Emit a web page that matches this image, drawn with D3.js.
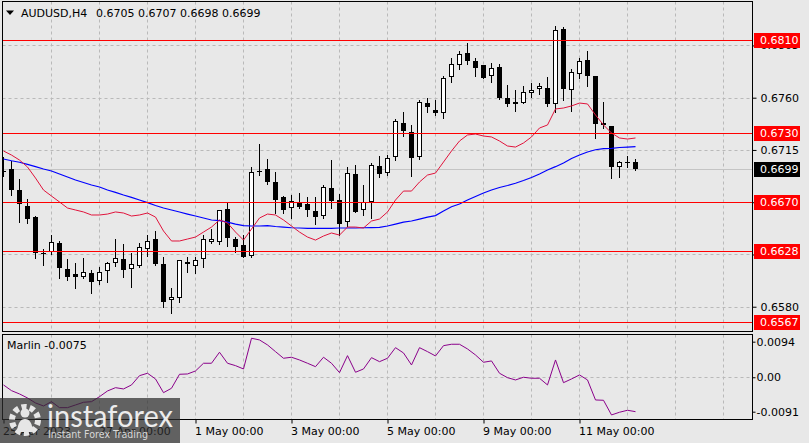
<!DOCTYPE html>
<html>
<head>
<meta charset="utf-8">
<script src="https://cdn.jsdelivr.net/npm/d3@7"></script>
<style>
  html, body { margin: 0; padding: 0; background: #e8e8e8; }
  svg { display: block; }
  text { font-family: 'DejaVu Sans', sans-serif; font-size: 11px; }
</style>
</head>
<body>
<div id="chart"></div>
<script>
// AUDUSD H4, candle index 0 = 25 Apr 00:00
const opens = [
  0.66969, 0.66986, 0.66805, 0.66667, 0.66572, 0.66262, 0.66275, 0.66346, 0.66125, 0.66082,
  0.66053, 0.66090, 0.66024, 0.66110, 0.66174, 0.66211, 0.66122, 0.66153, 0.66299, 0.66383,
  0.66168, 0.65858, 0.65872, 0.66182, 0.66153, 0.66208, 0.66360, 0.66360, 0.66641, 0.66383,
  0.66331, 0.66239, 0.66969, 0.66986, 0.66871, 0.66742, 0.66647, 0.66696, 0.66683, 0.66624,
  0.66584, 0.66822, 0.66719, 0.66527, 0.66941, 0.66630, 0.66704, 0.67012, 0.66949, 0.67092,
  0.67380, 0.67307, 0.67092, 0.67552, 0.67494, 0.67466, 0.67776, 0.67882, 0.67982, 0.67916,
  0.67882, 0.67787, 0.67862, 0.67600, 0.67543, 0.67552, 0.67638, 0.67672, 0.67681, 0.67543,
  0.68189, 0.67666, 0.67802, 0.67925, 0.67787, 0.67385, 0.67356, 0.67001, 0.67045, 0.67050
];
const highs = [
  0.67089, 0.67055, 0.66897, 0.66725, 0.66581, 0.66297, 0.66417, 0.66368, 0.66211, 0.66176,
  0.66219, 0.66113, 0.66139, 0.66185, 0.66383, 0.66340, 0.66265, 0.66353, 0.66417, 0.66456,
  0.66225, 0.65958, 0.66205, 0.66225, 0.66225, 0.66417, 0.66469, 0.66637, 0.66706, 0.66400,
  0.66417, 0.67001, 0.67201, 0.67069, 0.66957, 0.66756, 0.66758, 0.66783, 0.66747, 0.66749,
  0.66851, 0.67063, 0.66771, 0.67003, 0.67020, 0.66848, 0.67035, 0.67098, 0.67106, 0.67417,
  0.67479, 0.67365, 0.67580, 0.67595, 0.67580, 0.67789, 0.67939, 0.68005, 0.68074, 0.67939,
  0.67885, 0.67896, 0.67890, 0.67709, 0.67666, 0.67701, 0.67724, 0.67724, 0.67781, 0.68218,
  0.68206, 0.67845, 0.67939, 0.68002, 0.67787, 0.67566, 0.67356, 0.67057, 0.67098, 0.67070
];
const lows = [
  0.66926, 0.66762, 0.66532, 0.66523, 0.66217, 0.66159, 0.66254, 0.66044, 0.66030, 0.65964,
  0.66044, 0.65922, 0.65995, 0.66015, 0.66150, 0.66053, 0.65972, 0.66146, 0.66239, 0.66163,
  0.65797, 0.65748, 0.65843, 0.66101, 0.66093, 0.66139, 0.66346, 0.66340, 0.66323, 0.66267,
  0.66224, 0.66231, 0.66934, 0.66857, 0.66604, 0.66604, 0.66568, 0.66654, 0.66581, 0.66516,
  0.66564, 0.66647, 0.66417, 0.66491, 0.66616, 0.66590, 0.66564, 0.66921, 0.66934, 0.67063,
  0.67273, 0.66928, 0.67069, 0.67474, 0.67451, 0.67428, 0.67738, 0.67847, 0.67890, 0.67789,
  0.67772, 0.67733, 0.67586, 0.67531, 0.67488, 0.67550, 0.67609, 0.67632, 0.67529, 0.67479,
  0.67580, 0.67488, 0.67767, 0.67703, 0.67250, 0.67336, 0.66906, 0.66920, 0.67006, 0.66980
];
const closes = [
  0.66960, 0.66805, 0.66682, 0.66558, 0.66260, 0.66258, 0.66355, 0.66136, 0.66058, 0.66058,
  0.66096, 0.66015, 0.66101, 0.66179, 0.66217, 0.66113, 0.66165, 0.66317, 0.66366, 0.66168,
  0.65843, 0.65886, 0.66202, 0.66165, 0.66202, 0.66380, 0.66380, 0.66633, 0.66389, 0.66317,
  0.66231, 0.66957, 0.66966, 0.66871, 0.66719, 0.66633, 0.66708, 0.66661, 0.66630, 0.66575,
  0.66828, 0.66712, 0.66512, 0.66949, 0.66618, 0.66702, 0.67020, 0.66939, 0.67081, 0.67399,
  0.67316, 0.67078, 0.67560, 0.67517, 0.67471, 0.67767, 0.67888, 0.67976, 0.67919, 0.67858,
  0.67772, 0.67853, 0.67600, 0.67546, 0.67560, 0.67647, 0.67666, 0.67701, 0.67546, 0.68183,
  0.67672, 0.67819, 0.67916, 0.67789, 0.67371, 0.67365, 0.67006, 0.67044, 0.67050, 0.66990
];

// moving averages
const maFast = [
  0.67141, 0.67106, 0.67063, 0.67003, 0.66908, 0.66805, 0.66753, 0.66702, 0.66650, 0.66633,
  0.66616, 0.66590, 0.66590, 0.66598, 0.66616, 0.66607, 0.66581, 0.66590, 0.66607, 0.66572,
  0.66452, 0.66366, 0.66366, 0.66383, 0.66400, 0.66443, 0.66486, 0.66547, 0.66521, 0.66443,
  0.66374, 0.66469, 0.66564, 0.66598, 0.66590, 0.66547, 0.66495, 0.66443, 0.66400, 0.66374,
  0.66409, 0.66435, 0.66417, 0.66486, 0.66486, 0.66478, 0.66538, 0.66555, 0.66616, 0.66719,
  0.66796, 0.66796, 0.66874, 0.66934, 0.66951, 0.67046, 0.67141, 0.67227, 0.67279, 0.67287,
  0.67270, 0.67262, 0.67227, 0.67184, 0.67175, 0.67210, 0.67262, 0.67339, 0.67365, 0.67503,
  0.67511, 0.67529, 0.67554, 0.67546, 0.67451, 0.67365, 0.67296, 0.67253, 0.67244, 0.67253
];
const maSlow = [
  0.67072, 0.67057, 0.67044, 0.67026, 0.67006, 0.66986, 0.66969, 0.66943, 0.66917, 0.66891,
  0.66870, 0.66848, 0.66831, 0.66805, 0.66785, 0.66762, 0.66742, 0.66719, 0.66696, 0.66672,
  0.66650, 0.66633, 0.66616, 0.66598, 0.66581, 0.66564, 0.66547, 0.66542, 0.66529, 0.66512,
  0.66499, 0.66495, 0.66495, 0.66499, 0.66491, 0.66486, 0.66480, 0.66478, 0.66475, 0.66475,
  0.66475, 0.66475, 0.66478, 0.66478, 0.66478, 0.66480, 0.66482, 0.66484, 0.66495, 0.66512,
  0.66529, 0.66538, 0.66555, 0.66572, 0.66585, 0.66624, 0.66661, 0.66684, 0.66719, 0.66749,
  0.66779, 0.66805, 0.66827, 0.66844, 0.66863, 0.66887, 0.66913, 0.66943, 0.66977, 0.67006,
  0.67038, 0.67076, 0.67106, 0.67132, 0.67152, 0.67161, 0.67164, 0.67171, 0.67175, 0.67178
];
const marlin = [
  -0.00203, -0.00354, -0.00441, -0.00547, -0.00679, -0.00758, -0.00645, -0.00803, -0.00803, -0.00732,
  -0.00661, -0.00645, -0.00513, -0.00362, -0.00275, -0.00309, -0.00203, 0.00042, 0.00106, -0.00045,
  -0.00407, -0.00291, 0.00079, 0.00087, 0.00166, 0.00370, 0.00370, 0.00661, 0.00370, 0.00307,
  0.00219, 0.01031, 0.00986, 0.00854, 0.00677, 0.00502, 0.00529, 0.00457, 0.00370, 0.00280,
  0.00529, 0.00370, 0.00122, 0.00571, 0.00132, 0.00219, 0.00518, 0.00412, 0.00502, 0.00782,
  0.00642, 0.00325, 0.00782, 0.00677, 0.00563, 0.00835, 0.00872, 0.00872, 0.00748, 0.00589,
  0.00396, 0.00431, 0.00106, -0.00011, -0.00071, 0.00000, -0.00026, -0.00026, -0.00203, 0.00457,
  -0.00143, -0.00045, 0.00061, -0.00071, -0.00600, -0.00608, -0.00996, -0.00925, -0.00872, -0.00909
];

const levels = [0.6810, 0.6730, 0.6670, 0.6628, 0.6567];
const priceTicks = [0.6805, 0.6760, 0.6715, 0.6670, 0.6625, 0.6580];
const marlinTicks = [0.0094, 0, -0.0091];
const marlinTickLabels = ['0.0094', '0.00', '-0.0091'];
const timeIdx = [0, 12, 24, 36, 48, 60, 72];
const timeLabels = ['25 Apr 2023', '27 Apr 00:00', '1 May 00:00', '3 May 00:00', '5 May 00:00', '9 May 00:00', '11 May 00:00'];
const lastPrice = 0.6699;
const header = ['AUDUSD,H4', '0.6705 0.6707 0.6698 0.6699'];
const marlinTitle = 'Marlin -0.0075';

const width = 809;
const height = 443;
const frame = { left: 2.5, right: 752.5, top: 1.5, bottom: 331.5, subTop: 334.5, subBottom: 419.5 };

const x = d3.scaleLinear().domain([0, 79]).range([3.5, 635.5]);
const y = d3.scaleLinear().domain([0.65591, 0.68424]).range([331, 2]);
const yM = d3.scaleLinear().domain([-0.01103, 0.01143]).range([419, 334]);
const snap = (v) => Math.round(v) + 0.5;

const svg = d3.select('#chart')
  .append('svg')
  .attr('width', width)
  .attr('height', height);

svg.append('rect').attr('width', width).attr('height', height).attr('fill', '#e8e8e8');

const defs = svg.append('defs');
defs.append('clipPath').attr('id', 'clipMain')
  .append('rect')
  .attr('x', frame.left).attr('y', frame.top)
  .attr('width', frame.right - frame.left).attr('height', frame.bottom - frame.top);
defs.append('clipPath').attr('id', 'clipSub')
  .append('rect')
  .attr('x', frame.left).attr('y', frame.subTop)
  .attr('width', frame.right - frame.left).attr('height', frame.subBottom - frame.subTop);

const gridIdx = d3.range(6, 91, 6);

// vertical gridlines in both panels
[[frame.top, frame.bottom], [frame.subTop, frame.subBottom]].forEach(([t, b]) => {
  svg.append('g')
    .selectAll('line')
    .data(gridIdx)
    .enter().append('line')
    .attr('x1', (d) => x(d)).attr('x2', (d) => x(d))
    .attr('y1', t).attr('y2', b)
    .attr('stroke', '#b9b9b9')
    .attr('stroke-dasharray', '3,3');
});

// horizontal gridlines
svg.append('g')
  .selectAll('line')
  .data(priceTicks)
  .enter().append('line')
  .attr('x1', frame.left).attr('x2', frame.right)
  .attr('y1', (d) => snap(y(d))).attr('y2', (d) => snap(y(d)))
  .attr('stroke', '#b9b9b9')
  .attr('stroke-dasharray', '3,3');

svg.append('line')
  .attr('x1', frame.left).attr('x2', frame.right)
  .attr('y1', snap(yM(0))).attr('y2', snap(yM(0)))
  .attr('stroke', '#b9b9b9')
  .attr('stroke-dasharray', '3,3');

// last price line
svg.append('line')
  .attr('x1', frame.left).attr('x2', frame.right)
  .attr('y1', snap(y(lastPrice))).attr('y2', snap(y(lastPrice)))
  .attr('stroke', '#c4c4c4');

const plot = svg.append('g').attr('clip-path', 'url(#clipMain)');

const candles = opens.map((o, i) => ({
  i, o, h: highs[i], l: lows[i], c: closes[i],
}));
const bodyTop = (d) => Math.round(y(Math.max(d.o, d.c)));
const bodyBot = (d) => Math.round(y(Math.min(d.o, d.c)));

// wicks
plot.append('g')
  .selectAll('line')
  .data(candles)
  .enter().append('line')
  .attr('x1', (d) => x(d.i)).attr('x2', (d) => x(d.i))
  .attr('y1', (d) => Math.round(y(d.h)))
  .attr('y2', (d) => Math.round(y(d.l)) + 1)
  .attr('stroke', '#000');

// bodies
plot.append('g')
  .selectAll('rect')
  .data(candles)
  .enter().append('rect')
  .each(function (d) {
    const t = bodyTop(d);
    const b = bodyBot(d);
    const r = d3.select(this);
    if (d.c > d.o && b - t > 1) {
      r.attr('x', x(d.i) - 2).attr('y', t + 0.5)
        .attr('width', 4).attr('height', b - t - 1)
        .attr('fill', '#fff').attr('stroke', '#000');
    } else {
      r.attr('x', x(d.i) - 2.5).attr('y', t)
        .attr('width', 5).attr('height', Math.max(1, b - t))
        .attr('fill', '#000');
    }
  });

// moving averages
const line = d3.line().x((d, i) => x(i)).y((d) => y(d));
plot.append('path')
  .datum(maSlow)
  .attr('d', line)
  .attr('fill', 'none')
  .attr('stroke', '#0000ff')
  .attr('stroke-width', 1.2);
plot.append('path')
  .datum(maFast)
  .attr('d', line)
  .attr('fill', 'none')
  .attr('stroke', '#e0143c')
  .attr('stroke-width', 1);

// horizontal levels
svg.append('g')
  .selectAll('line')
  .data(levels)
  .enter().append('line')
  .attr('x1', frame.left).attr('x2', frame.right)
  .attr('y1', (d) => snap(y(d))).attr('y2', (d) => snap(y(d)))
  .attr('stroke', '#ff0000');

// marlin oscillator
svg.append('g').attr('clip-path', 'url(#clipSub)')
  .append('path')
  .datum(marlin)
  .attr('d', d3.line().x((d, i) => x(i)).y((d) => yM(d)))
  .attr('fill', 'none')
  .attr('stroke', '#8a008a')
  .attr('stroke-width', 1);

// frames
svg.append('rect')
  .attr('x', frame.left).attr('y', frame.top)
  .attr('width', frame.right - frame.left).attr('height', frame.bottom - frame.top)
  .attr('fill', 'none').attr('stroke', '#000');
svg.append('rect')
  .attr('x', frame.left).attr('y', frame.subTop)
  .attr('width', frame.right - frame.left).attr('height', frame.subBottom - frame.subTop)
  .attr('fill', 'none').attr('stroke', '#000');

// price axis
const yAxis = svg.append('g')
  .attr('transform', `translate(${frame.right},0)`)
  .call(d3.axisRight(y).tickValues(priceTicks).tickSize(4).tickPadding(4)
    .tickFormat(d3.format('.4f')));
yAxis.select('.domain').remove();
yAxis.selectAll('text').attr('fill', '#000').style('font-size', '11px');
yAxis.selectAll('line').attr('stroke', '#000');

const mAxis = svg.append('g')
  .attr('transform', `translate(${frame.right},0)`)
  .call(d3.axisRight(yM).tickValues(marlinTicks).tickSize(3).tickPadding(1)
    .tickFormat((d, i) => marlinTickLabels[i]));
mAxis.select('.domain').remove();
mAxis.selectAll('text').attr('fill', '#000').style('font-size', '11px');
mAxis.selectAll('line').attr('stroke', '#000');

// time axis
const xAxis = svg.append('g')
  .attr('transform', `translate(0,${frame.subBottom})`)
  .call(d3.axisBottom(x).tickValues(timeIdx).tickSize(4).tickPadding(4)
    .tickFormat((d, i) => timeLabels[i]));
xAxis.select('.domain').remove();
xAxis.selectAll('text').attr('fill', '#000').attr('text-anchor', 'start').attr('dx', -1)
  .style('font-size', '11px');
xAxis.selectAll('line').attr('stroke', '#000');

// level labels
const tags = svg.append('g');
levels.forEach((v) => {
  const cy = Math.round(y(v));
  tags.append('rect')
    .attr('x', 754).attr('y', cy - 7)
    .attr('width', 46).attr('height', 15)
    .attr('fill', '#ff0000');
  tags.append('text')
    .attr('x', 760).attr('y', cy).attr('dy', '0.38em')
    .attr('fill', '#fff')
    .text(d3.format('.4f')(v));
});
const lastY = Math.round(y(lastPrice));
tags.append('rect')
  .attr('x', 754).attr('y', lastY - 7)
  .attr('width', 46).attr('height', 15)
  .attr('fill', '#000');
tags.append('text')
  .attr('x', 760).attr('y', lastY).attr('dy', '0.38em')
  .attr('fill', '#fff')
  .text(d3.format('.4f')(lastPrice));

// header
svg.append('path').attr('d', 'M6,10.5L14,10.5L10,15Z').attr('fill', '#000');
svg.append('text').attr('x', 21).attr('y', 17).attr('fill', '#000').text(header[0]);
svg.append('text').attr('x', 96).attr('y', 17).attr('fill', '#000').text(header[1]);
svg.append('text').attr('x', 7).attr('y', 349).attr('fill', '#000').text(marlinTitle);

// watermark
const wm = svg.append('g');
wm.append('rect')
  .attr('x', 0).attr('y', 398)
  .attr('width', 180).attr('height', 45)
  .attr('fill', 'rgba(45,45,45,0.72)');
wm.append('circle')
  .attr('cx', 25).attr('cy', 420).attr('r', 13)
  .attr('fill', 'none').attr('stroke', '#e6e6e6').attr('stroke-width', 6)
  .attr('stroke-dasharray', '5,3.2');
wm.append('circle')
  .attr('cx', 25).attr('cy', 413).attr('r', 4.5)
  .attr('fill', '#e6e6e6');
wm.append('path')
  .attr('d', 'M17,432 Q18,419 25,419 Q32,419 33,432 Z')
  .attr('fill', '#e6e6e6');
wm.append('text')
  .attr('x', 47).attr('y', 427)
  .attr('textLength', 126).attr('lengthAdjust', 'spacingAndGlyphs')
  .attr('fill', '#ececec')
  .style('font-family', 'Lato, sans-serif')
  .style('font-size', '31px')
  .text('instaforex');
wm.append('text')
  .attr('x', 48).attr('y', 438)
  .attr('textLength', 100).attr('lengthAdjust', 'spacingAndGlyphs')
  .attr('fill', '#d8d8d8')
  .style('font-size', '10px')
  .text('Instant Forex Trading');
</script>
</body>
</html>
